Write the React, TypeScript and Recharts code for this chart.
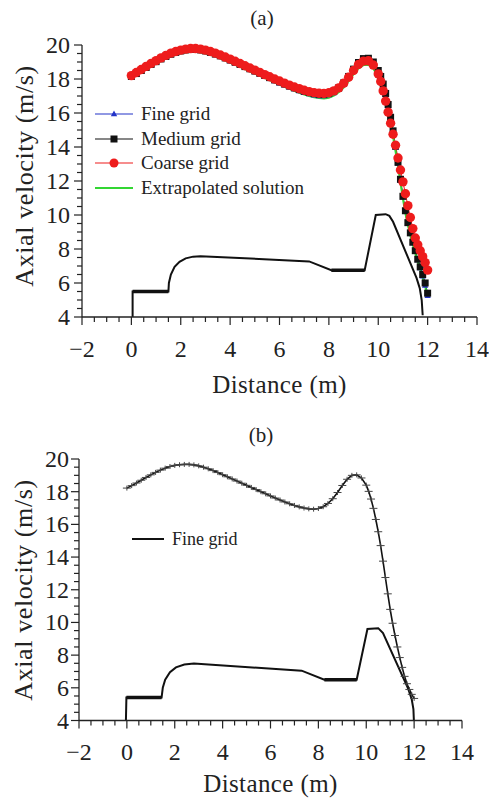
import React from 'react';
import { ComposedChart, Line, XAxis, YAxis, Legend } from 'recharts';

const FONT = '"Liberation Serif", "DejaVu Serif", serif';
const INK = '#222';

// ---------- data ----------
const distance = [
  0, 0.2, 0.4, 0.6, 0.8, 1, 1.2, 1.4, 1.6, 1.8,
  2, 2.2, 2.4, 2.6, 2.8, 3, 3.2, 3.4, 3.6, 3.8,
  4, 4.2, 4.4, 4.6, 4.8, 5, 5.2, 5.4, 5.6, 5.8,
  6, 6.2, 6.4, 6.6, 6.8, 7, 7.2, 7.4, 7.6, 7.8,
  8, 8.2, 8.4, 8.6, 8.8, 9, 9.2, 9.4, 9.6, 9.8,
  10,
  10.1, 10.2, 10.3, 10.4, 10.5, 10.6, 10.7, 10.8, 10.9, 11,
  11.1, 11.2, 11.3, 11.4, 11.5, 11.6, 11.7, 11.8, 11.9, 12,
];

const fineGridA = [
  18.12, 18.28, 18.46, 18.64, 18.82, 18.98, 19.13, 19.28, 19.41, 19.52,
  19.6, 19.66, 19.69, 19.69, 19.66, 19.6, 19.52, 19.42, 19.31, 19.19,
  19.06, 18.93, 18.8, 18.67, 18.54, 18.41, 18.28, 18.15, 18.02, 17.89,
  17.76, 17.64, 17.52, 17.41, 17.3, 17.2, 17.12, 17.05, 17.01, 17.01,
  17.06, 17.18, 17.39, 17.69, 18.07, 18.5, 18.9, 19.14, 19.16, 18.95,
  18.45,
  18.1, 17.63, 17.07, 16.42, 15.67, 14.87, 13.98, 13.03, 12.03, 11.05,
  10.2, 9.5, 8.9, 8.35, 7.85, 7.35, 6.88, 6.4, 5.85, 5.25,
];

const mediumGridA = [
  18.15, 18.32, 18.5, 18.68, 18.86, 19.02, 19.18, 19.33, 19.46, 19.57,
  19.65, 19.71, 19.74, 19.74, 19.71, 19.65, 19.57, 19.47, 19.36, 19.24,
  19.12, 18.99, 18.86, 18.73, 18.6, 18.47, 18.34, 18.21, 18.08, 17.95,
  17.83, 17.71, 17.59, 17.48, 17.38, 17.29, 17.21, 17.15, 17.11, 17.11,
  17.16, 17.28, 17.48, 17.77, 18.15, 18.58, 18.97, 19.2, 19.22, 19.0,
  18.5,
  18.15, 17.7, 17.15, 16.5, 15.75, 14.95, 14.05, 13.1, 12.1, 11.1,
  10.25, 9.55, 8.95, 8.4, 7.9, 7.4, 6.95, 6.5, 6.0, 5.4,
];

const coarseGridA = [
  18.2, 18.38, 18.56, 18.74, 18.92, 19.08, 19.24, 19.39, 19.52, 19.62,
  19.7, 19.76, 19.79, 19.79, 19.76, 19.7, 19.62, 19.52, 19.41, 19.29,
  19.17, 19.04, 18.91, 18.78, 18.65, 18.52, 18.39, 18.26, 18.13, 18.0,
  17.88, 17.76, 17.64, 17.53, 17.43, 17.34, 17.26, 17.2, 17.16, 17.15,
  17.19, 17.3, 17.48, 17.75, 18.1, 18.5, 18.85, 19.05, 19.07, 18.82,
  18.3,
  17.85, 17.3, 16.7, 16.05, 15.4, 14.75, 14.1, 13.35, 12.65, 11.95,
  11.25, 10.55, 9.85, 9.2, 8.65, 8.25, 7.9, 7.55, 7.2, 6.76,
];

const extrapolatedA = [
  18.1, 18.25, 18.42, 18.6, 18.77, 18.93, 19.08, 19.22, 19.34, 19.44,
  19.52, 19.57, 19.6, 19.6, 19.57, 19.51, 19.43, 19.33, 19.22, 19.1,
  18.97, 18.84, 18.71, 18.58, 18.45, 18.32, 18.19, 18.06, 17.93, 17.8,
  17.67, 17.54, 17.42, 17.3, 17.19, 17.09, 17.0, 16.93, 16.88, 16.86,
  16.9, 17.02, 17.22, 17.5, 17.88, 18.28, 18.62, 18.82, 18.84, 18.62,
  18.1,
  17.72, 17.27, 16.72, 16.08, 15.38, 14.6, 13.75, 12.85, 11.9, 10.95,
  10.1, 9.4, 8.8, 8.25, 7.75, 7.25, 6.8, 6.3, 5.8, 5.25,
];

const fineGridB = [
  18.22, 18.37, 18.53, 18.7, 18.87, 19.03, 19.18, 19.32, 19.44, 19.54,
  19.61, 19.65, 19.67, 19.67, 19.64, 19.58, 19.5, 19.4, 19.29, 19.17,
  19.04, 18.91, 18.78, 18.65, 18.52, 18.39, 18.26, 18.13, 18.0, 17.87,
  17.74, 17.61, 17.49, 17.37, 17.26, 17.16, 17.07, 17.0, 16.95, 16.93,
  16.97, 17.08, 17.28, 17.57, 17.95, 18.38, 18.76, 19.0, 19.03, 18.84,
  18.4,
  18.02, 17.55, 16.98, 16.3, 15.55, 14.7, 13.75, 12.75, 11.75, 10.8,
  9.95, 9.2, 8.5, 7.85, 7.25, 6.7, 6.25, 5.9, 5.6, 5.35,
];

// geometry outline (wall profile) drawn in the same axes
const wallAX = [0.05, 0.05, 1.5, 1.52, 1.6, 1.75, 1.95, 2.2, 2.5, 2.8, 7.2, 8.1, 9.45, 9.9, 10.3, 10.45, 10.6, 11.55, 11.68, 11.76, 11.8];
const wallAY = [4.0, 5.5, 5.5, 6.0, 6.5, 6.95, 7.25, 7.45, 7.55, 7.58, 7.27, 6.75, 6.75, 10.0, 10.05, 9.95, 9.6, 6.3, 5.7, 5.0, 4.1];
const wallBX = [-0.04, -0.02, 1.45, 1.5, 1.6, 1.8, 2.05, 2.4, 2.8, 7.3, 8.25, 9.6, 10.05, 10.5, 10.7, 11.75, 11.9, 11.97, 11.99];
const wallBY = [4.0, 5.4, 5.4, 6.0, 6.5, 6.95, 7.25, 7.42, 7.48, 7.05, 6.5, 6.5, 9.6, 9.65, 9.35, 5.95, 5.3, 4.7, 4.0];
// thick (double-walled) flat sections
const flatAX = [0.05, 1.5, null, 8.1, 9.45];
const flatAY = [5.5, 5.5, null, 6.75, 6.75];
const flatBX = [-0.02, 1.45, null, 8.25, 9.6];
const flatBY = [5.4, 5.4, null, 6.5, 6.5];

const xMajorTicks = [-2, 0, 2, 4, 6, 8, 10, 12, 14];
const xAllTicks = [-2, -1.5, -1, -0.5, 0, 0.5, 1, 1.5, 2, 2.5, 3, 3.5, 4, 4.5, 5, 5.5, 6, 6.5, 7, 7.5, 8, 8.5, 9, 9.5, 10, 10.5, 11, 11.5, 12, 12.5, 13, 13.5, 14];
const yMajorTicks = [4, 6, 8, 10, 12, 14, 16, 18, 20];
const yAllTicks = [4, 4.5, 5, 5.5, 6, 6.5, 7, 7.5, 8, 8.5, 9, 9.5, 10, 10.5, 11, 11.5, 12, 12.5, 13, 13.5, 14, 14.5, 15, 15.5, 16, 16.5, 17, 17.5, 18, 18.5, 19, 19.5, 20];

const legendA = [
  { name: 'Fine grid', color: '#2233c8', marker: 'triangle' },
  { name: 'Medium grid', color: '#111111', marker: 'square' },
  { name: 'Coarse grid', color: '#ee1c1c', marker: 'circle' },
  { name: 'Extrapolated solution', color: '#33d633', marker: 'none' },
];
const legendB = [{ name: 'Fine grid', color: '#111111', marker: 'none' }];

// ---------- helpers ----------
const pts = (xs: (number | null)[], ys: (number | null)[]) =>
  xs.map((x, i) => ({ x, y: ys[i] }));

const fmt = (v: number) => (v < 0 ? '\u2212' + Math.abs(v) : String(v));

const TICK_FS = 24;

const makeXTick = (labelDy: number) => (props: any) => {
  const { x, y, payload } = props;
  const v = payload.value;
  const major = xMajorTicks.includes(v);
  return (
    <g>
      <line x1={x} x2={x} y1={y} y2={y + (major ? 8 : 5)} stroke={INK} strokeWidth={1.2} />
      {major ? (
        <text x={x} y={y + labelDy} textAnchor="middle" dominantBaseline="central" fontFamily={FONT} fontSize={TICK_FS} fill={INK}>
          {fmt(v)}
        </text>
      ) : null}
    </g>
  );
};

const makeYTick = (labelDx: number) => (props: any) => {
  const { x, y, payload } = props;
  const v = payload.value;
  const major = yMajorTicks.includes(v);
  return (
    <g>
      <line x1={x - (major ? 8 : 5)} x2={x} y1={y} y2={y} stroke={INK} strokeWidth={1.2} />
      {major ? (
        <text x={x - labelDx} y={y} textAnchor="end" dominantBaseline="central" fontFamily={FONT} fontSize={TICK_FS} fill={INK}>
          {fmt(v)}
        </text>
      ) : null}
    </g>
  );
};

const triangleDot = (p: any) => (
  <path key={`t${p.index}`} d={`M${p.cx},${p.cy - 3.4}L${p.cx + 3.2},${p.cy + 2.3}L${p.cx - 3.2},${p.cy + 2.3}Z`} fill="#2233c8" />
);
const squareDot = (p: any) => (
  <rect key={`s${p.index}`} x={p.cx - 3.5} y={p.cy - 3.5} width={7} height={7} fill="#111" />
);
const circleDot = (p: any) => (
  <circle key={`c${p.index}`} cx={p.cx} cy={p.cy} r={4.7} fill="#ee1c1c" />
);
const plusDot = (p: any) => (
  <path key={`p${p.index}`} d={`M${p.cx - 4},${p.cy}H${p.cx + 4}M${p.cx},${p.cy - 2.5}V${p.cy + 2.5}`} stroke="#444" strokeWidth={1} />
);

const LegendIcon = ({ item }: any) => (
  <svg width={40} height={12} style={{ display: 'block' }}>
    <line x1={0} x2={38} y1={6} y2={6} stroke={item.color} strokeWidth={item.marker === 'none' ? 2 : 1.2} />
    {item.marker === 'triangle' ? <path d="M19,2.6L22.2,8.3L15.8,8.3Z" fill={item.color} /> : null}
    {item.marker === 'square' ? <rect x={15.5} y={2.5} width={7} height={7} fill={item.color} /> : null}
    {item.marker === 'circle' ? <circle cx={19} cy={6} r={4.5} fill={item.color} /> : null}
  </svg>
);

const makeLegend = (items: any[], fontSize: number, rowH: number, gap: number, iconW: number) => () => (
  <div style={{ fontFamily: FONT, fontSize, color: INK }}>
    {items.map((item) => (
      <div key={item.name} style={{ display: 'flex', alignItems: 'center', height: rowH, whiteSpace: 'nowrap' }}>
        <div style={{ width: iconW, overflow: 'hidden' }}>
          <LegendIcon item={item} />
        </div>
        <span style={{ marginLeft: gap }}>{item.name}</span>
      </div>
    ))}
  </div>
);

const TITLE_FS = 25;

const AxisTitleX = (cx: number, cy: number) => () => (
  <text x={cx} y={cy} textAnchor="middle" dominantBaseline="central" fontFamily={FONT} fontSize={TITLE_FS} letterSpacing={0.4} fill={INK}>
    Distance (m)
  </text>
);
const AxisTitleY = (cx: number, cy: number) => () => (
  <text x={cx} y={cy} transform={`rotate(-90, ${cx}, ${cy})`} textAnchor="middle" dominantBaseline="central" fontFamily={FONT} fontSize={TITLE_FS + 1} letterSpacing={0.6} fill={INK}>
    Axial velocity (m/s)
  </text>
);

const panelTitle = (text: string, cx: number, cy: number) => (
  <div style={{ position: 'absolute', left: cx - 40, width: 80, top: cy - 12, height: 24, lineHeight: '24px', textAlign: 'center', fontFamily: FONT, fontSize: 21, color: INK }}>
    {text}
  </div>
);

export default function App() {
  const wallA = pts(wallAX, wallAY);
  const flatA = pts(flatAX, flatAY);
  const wallB = pts(wallBX, wallBY);
  const flatB = pts(flatBX, flatBY);
  const fineA = pts(distance, fineGridA);
  const mediumA = pts(distance, mediumGridA);
  const coarseA = pts(distance, coarseGridA);
  const extrapA = pts(distance, extrapolatedA);
  const fineB = pts(distance, fineGridB);

  return (
    <div style={{ position: 'absolute', left: 0, top: 0, width: 489, height: 798, background: '#fff', overflow: 'hidden' }}>
      {panelTitle('(a)', 262, 18)}
      {panelTitle('(b)', 261, 435)}

      <div style={{ position: 'absolute', left: 0, top: 0 }}>
        <ComposedChart width={489} height={400} margin={{ top: 45, right: 12, bottom: 43, left: 22 }}>
          <XAxis
            type="number"
            dataKey="x"
            domain={[-2, 14]}
            ticks={xAllTicks}
            interval={0}
            tickSize={0}
            tickMargin={0}
            tickLine={false}
            height={40}
            axisLine={{ stroke: INK, strokeWidth: 1.3 }}
            tick={makeXTick(32)}
            label={AxisTitleX(279.5, 384)}
          />
          <YAxis
            type="number"
            dataKey="y"
            domain={[4, 20]}
            ticks={yAllTicks}
            interval={0}
            tickSize={0}
            tickMargin={0}
            tickLine={false}
            width={60}
            axisLine={{ stroke: INK, strokeWidth: 1.3 }}
            tick={makeYTick(12)}
            label={AxisTitleY(24, 176)}
          />
          <Legend
            layout="vertical"
            align="center"
            verticalAlign="middle"
            wrapperStyle={{ left: 95, top: 102, width: 240 }}
            content={makeLegend(legendA, 19, 24.6, 8, 38)}
          />
          <Line data={wallA} dataKey="y" stroke="#111" strokeWidth={2} dot={false} isAnimationActive={false} legendType="none" />
          <Line data={flatA} dataKey="y" stroke="#111" strokeWidth={3.5} dot={false} isAnimationActive={false} legendType="none" />
          <Line data={fineA} dataKey="y" name="Fine grid" stroke="#2233c8" strokeWidth={1} dot={triangleDot} isAnimationActive={false} />
          <Line data={mediumA} dataKey="y" name="Medium grid" stroke="#111" strokeWidth={1} dot={squareDot} isAnimationActive={false} />
          <Line data={coarseA} dataKey="y" name="Coarse grid" stroke="#ee1c1c" strokeWidth={1} dot={circleDot} isAnimationActive={false} />
          <Line data={extrapA} dataKey="y" name="Extrapolated solution" stroke="#33d633" strokeWidth={2} dot={false} isAnimationActive={false} />
        </ComposedChart>
      </div>

      <div style={{ position: 'absolute', left: 0, top: 400 }}>
        <ComposedChart width={489} height={398} margin={{ top: 59, right: 27, bottom: 37.5, left: 19 }}>
          <XAxis
            type="number"
            dataKey="x"
            domain={[-2, 14]}
            ticks={xAllTicks}
            interval={0}
            tickSize={0}
            tickMargin={0}
            tickLine={false}
            height={40}
            axisLine={{ stroke: INK, strokeWidth: 1.3 }}
            tick={makeXTick(31)}
            label={AxisTitleX(270.5, 383.5)}
          />
          <YAxis
            type="number"
            dataKey="y"
            domain={[4, 20]}
            ticks={yAllTicks}
            interval={0}
            tickSize={0}
            tickMargin={0}
            tickLine={false}
            width={60}
            axisLine={{ stroke: INK, strokeWidth: 1.3 }}
            tick={makeYTick(10)}
            label={AxisTitleY(23, 190)}
          />
          <Legend
            layout="vertical"
            align="center"
            verticalAlign="middle"
            wrapperStyle={{ left: 132, top: 127, width: 160 }}
            content={makeLegend(legendB, 18, 24, 8, 32)}
          />
          <Line data={wallB} dataKey="y" stroke="#111" strokeWidth={2} dot={false} isAnimationActive={false} legendType="none" />
          <Line data={flatB} dataKey="y" stroke="#111" strokeWidth={3.5} dot={false} isAnimationActive={false} legendType="none" />
          <Line data={fineB} dataKey="y" name="Fine grid" stroke="#111" strokeWidth={1.6} dot={plusDot} isAnimationActive={false} />
        </ComposedChart>
      </div>
    </div>
  );
}
